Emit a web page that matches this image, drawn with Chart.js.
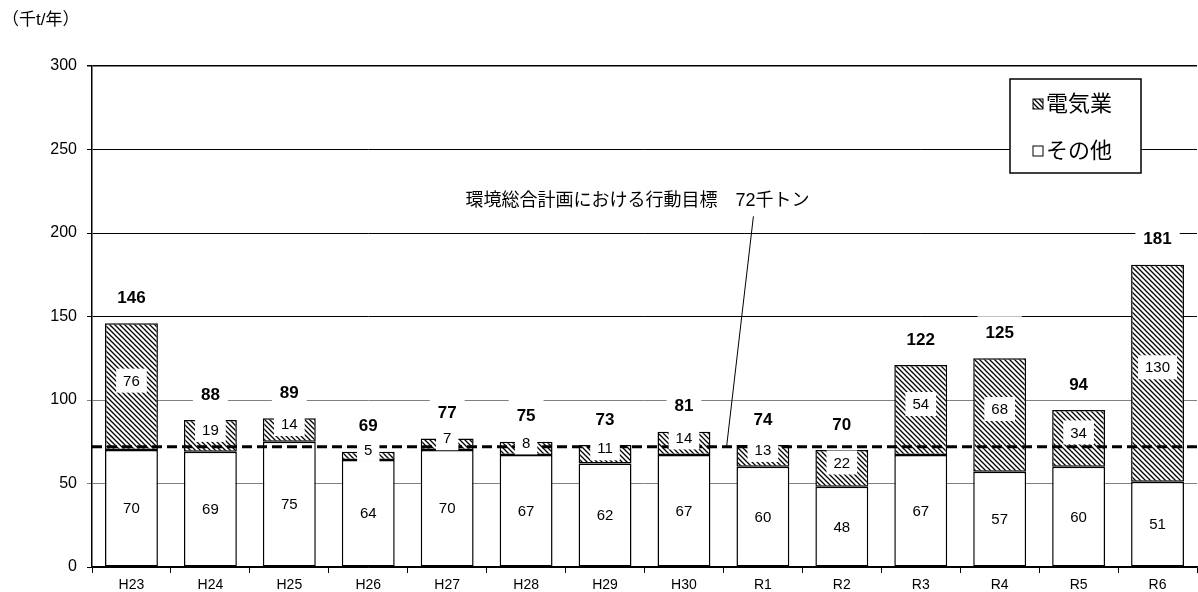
<!DOCTYPE html>
<html>
<head>
<meta charset="utf-8">
<script src="https://cdn.jsdelivr.net/npm/chart.js@4"></script>
<style>
  html, body { margin: 0; padding: 0; background: #fff; }
  #wrap { width: 1198px; height: 592px; }
</style>
</head>
<body>
<div id="wrap"><canvas id="myChart" width="1198" height="592"></canvas></div>
<script>
const years = ['H23','H24','H25','H26','H27','H28','H29','H30','R1','R2','R3','R4','R5','R6'];
const sonota = [70, 69, 75, 64, 70, 67, 62, 67, 60, 48, 67, 57, 60, 51];
const denki = [76, 19, 14, 5, 7, 8, 11, 14, 13, 22, 54, 68, 34, 130];
const totals = [146, 88, 89, 69, 77, 75, 73, 81, 74, 70, 122, 125, 94, 181];
const target = 72;
const targetText = '環境総合計画における行動目標　72千トン';
const unitText = '（千t/年）';

const FONT = "'Liberation Sans', Arial, 'Noto Sans CJK JP', sans-serif";

function hatch(size) {
  const c = document.createElement('canvas');
  c.width = size; c.height = size;
  const g = c.getContext('2d');
  g.fillStyle = '#fff';
  g.fillRect(0, 0, size, size);
  g.strokeStyle = '#000';
  g.lineWidth = 1.3;
  g.beginPath();
  g.moveTo(0, 0); g.lineTo(size, size);
  g.moveTo(-size, 0); g.lineTo(size, 2 * size);
  g.moveTo(0, -size); g.lineTo(2 * size, size);
  g.stroke();
  return g.createPattern(c, 'repeat');
}
const hatchFill = hatch(5);

function boxedText(ctx, text, x, y, font, padX, h) {
  ctx.font = font;
  const w = ctx.measureText(text).width + padX * 2;
  ctx.fillStyle = '#fff';
  ctx.fillRect(x - w / 2, y - h / 2, w, h);
  ctx.fillStyle = '#000';
  ctx.fillText(text, x, y + 1);
}

const extras = {
  id: 'extras',
  afterDatasetsDraw(chart) {
    const ctx = chart.ctx;
    const xs = chart.scales.x, ys = chart.scales.y;
    const area = chart.chartArea;
    const ty = ys.getPixelForValue(target);
    ctx.save();

    // target line
    ctx.setLineDash([10, 5]);
    ctx.lineWidth = 3;
    ctx.strokeStyle = '#000';
    ctx.beginPath();
    ctx.moveTo(area.left, ty);
    ctx.lineTo(area.right, ty);
    ctx.stroke();
    ctx.setLineDash([]);

    // leader line + annotation
    ctx.lineWidth = 1;
    ctx.beginPath();
    ctx.moveTo(xs.getPixelForValue(7.88), ys.getPixelForValue(210));
    ctx.lineTo(xs.getPixelForValue(7.54), ty);
    ctx.stroke();
    ctx.font = '18px ' + FONT;
    ctx.textAlign = 'center';
    ctx.textBaseline = 'middle';
    ctx.fillStyle = '#000';
    ctx.fillText(targetText, xs.getPixelForValue(6.41), ys.getPixelForValue(219));

    // value labels
    const mOther = chart.getDatasetMeta(0).data;
    const mDen = chart.getDatasetMeta(1).data;
    years.forEach((_, i) => {
      const o = mOther[i], d = mDen[i];
      boxedText(ctx, String(sonota[i]), o.x, (o.y + o.base) / 2, '15px ' + FONT, 6, 22);
      boxedText(ctx, String(denki[i]), d.x, (d.y + d.base) / 2 - 6, '15px ' + FONT, 7, 24);
      boxedText(ctx, String(totals[i]), d.x, d.y - 26, 'bold 17px ' + FONT, 8, 32);
    });

    // legend
    const lx = area.right - 187, ly = area.top + 13, lw = 131, lh = 94;
    ctx.fillStyle = '#fff';
    ctx.fillRect(lx, ly, lw, lh);
    ctx.strokeStyle = '#000';
    ctx.lineWidth = 1.5;
    ctx.strokeRect(lx, ly, lw, lh);
    const items = [[hatchFill, '電気業'], ['#fff', 'その他']];
    items.forEach((it, k) => {
      const cy = ly + 25 + k * 47;
      ctx.fillStyle = it[0];
      ctx.fillRect(lx + 23, cy - 5, 10, 10);
      ctx.lineWidth = 1;
      ctx.strokeRect(lx + 23, cy - 5, 10, 10);
      ctx.fillStyle = '#000';
      ctx.font = '22px ' + FONT;
      ctx.textAlign = 'left';
      ctx.fillText(it[1], lx + 36, cy + 1);
    });

    // unit
    ctx.font = '17px ' + FONT;
    ctx.textAlign = 'left';
    ctx.fillText(unitText, area.left - 90, area.top - 46);
    ctx.restore();
  }
};

const ctx = document.getElementById('myChart').getContext('2d');
new Chart(ctx, {
  type: 'bar',
  data: {
    labels: years,
    datasets: [
      {
        label: 'その他',
        data: sonota,
        backgroundColor: '#fff',
        borderColor: '#000',
        borderWidth: 1.5,
        borderSkipped: false,
        barPercentage: 0.67,
        categoryPercentage: 1
      },
      {
        label: '電気業',
        data: denki,
        backgroundColor: hatchFill,
        borderColor: '#000',
        borderWidth: 1.5,
        borderSkipped: false,
        barPercentage: 0.67,
        categoryPercentage: 1
      }
    ]
  },
  options: {
    responsive: false,
    animation: false,
    layout: { padding: { top: 66, right: 1, left: 0, bottom: 0 } },
    plugins: { legend: { display: false }, tooltip: { enabled: false } },
    scales: {
      x: {
        stacked: true,
        grid: { offset: true, drawOnChartArea: false, tickLength: 6, color: '#000' },
        border: { color: '#000', width: 1.5 },
        ticks: { color: '#000', font: { family: FONT, size: 14 }, padding: 4 },
        afterFit(s) { s.height = 25; }
      },
      y: {
        stacked: true,
        min: 0, max: 300,
        ticks: { stepSize: 50, color: '#000', font: { family: FONT, size: 16 }, padding: 10 },
        grid: {
          tickLength: 5,
          color: c => (c.tick && c.tick.value > 0 && c.tick.value <= 100) ? '#808080' : '#000',
          lineWidth: c => (c.tick && c.tick.value === 300) ? 1.5 : 1
        },
        border: { color: '#000', width: 1.5 },
        afterFit(s) { s.width = 92; }
      }
    }
  },
  plugins: [extras]
});
</script>
</body>
</html>
